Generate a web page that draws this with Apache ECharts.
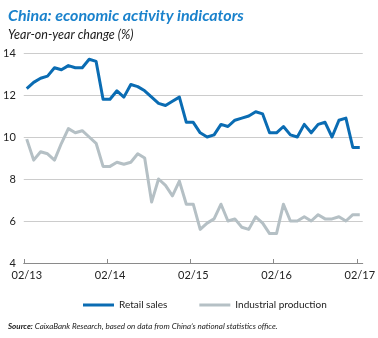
<!DOCTYPE html>
<html>
<head>
<meta charset="utf-8">
<script src="https://cdn.jsdelivr.net/npm/echarts@6/dist/echarts.min.js"></script>
<style>
html,body{margin:0;padding:0;background:#fff;}
#c{width:378px;height:338px;}
</style>
</head>
<body>
<div id="c"></div>
<script>
// Months Feb 2013 .. Feb 2017 (49 monthly points)
const months = [
 '02/13','03/13','04/13','05/13','06/13','07/13','08/13','09/13','10/13','11/13','12/13',
 '01/14','02/14','03/14','04/14','05/14','06/14','07/14','08/14','09/14','10/14','11/14','12/14',
 '01/15','02/15','03/15','04/15','05/15','06/15','07/15','08/15','09/15','10/15','11/15','12/15',
 '01/16','02/16','03/16','04/16','05/16','06/16','07/16','08/16','09/16','10/16','11/16','12/16',
 '01/17','02/17'
];
const retailSales = [
 12.3,12.6,12.8,12.9,13.3,13.2,13.4,13.3,13.3,13.7,13.6,
 11.8,11.8,12.2,11.9,12.5,12.4,12.2,11.9,11.6,11.5,11.7,11.9,
 10.7,10.7,10.2,10.0,10.1,10.6,10.5,10.8,10.9,11.0,11.2,11.1,
 10.2,10.2,10.5,10.1,10.0,10.6,10.2,10.6,10.7,10.0,10.8,10.9,
 9.5,9.5
];
const industrialProduction = [
 9.9,8.9,9.3,9.2,8.9,9.7,10.4,10.2,10.3,10.0,9.7,
 8.6,8.6,8.8,8.7,8.8,9.2,9.0,6.9,8.0,7.7,7.2,7.9,
 6.8,6.8,5.6,5.9,6.1,6.8,6.0,6.1,5.7,5.6,6.2,5.9,
 5.4,5.4,6.8,6.0,6.0,6.2,6.0,6.3,6.1,6.1,6.2,6.0,
 6.3,6.3
];
const xTickLabels = ['02/13','02/14','02/15','02/16','02/17'];
const yTicks = [4,6,8,10,12,14];

const chart = echarts.init(document.getElementById('c'), null, {renderer:'canvas'});
const font = 'Lato, "Open Sans", sans-serif';
const pad = 3/7;
const toPairs = arr => arr.map((v,i)=>[i,v]);

chart.setOption({
  animation:false,
  backgroundColor:'#fff',
  textStyle:{fontFamily:font},
  title:[{
    text:'China: economic activity indicators',
    subtext:'Year-on-year change (%)',
    left:3, top:3, itemGap:4,
    textStyle:{fontFamily:font,fontSize:16,fontWeight:'bold',fontStyle:'italic',color:'#1a82cc'},
    subtextStyle:{fontFamily:font,fontSize:12.5,fontStyle:'italic',color:'#1a1a1a'}
  },{
    text:'{b|Source:} CaixaBank Research, based on data from China\u2019s national statistics office.',
    left:3, top:317,
    textStyle:{fontFamily:font,fontSize:8,fontStyle:'italic',fontWeight:'normal',color:'#1a1a1a',
      rich:{b:{fontFamily:font,fontSize:8,fontStyle:'italic',fontWeight:'bold',color:'#1a1a1a'}}}
  }],
  legend:{
    left:78, top:295,
    icon:'rect', itemWidth:31, itemHeight:3, itemGap:32,
    textStyle:{fontFamily:font,fontSize:10,color:'#222'},
    data:['Retail sales','Industrial production']
  },
  grid:{left:22,right:14,top:53,bottom:75,containLabel:false},
  xAxis:{
    type:'value',
    min:-pad, max:48+pad, interval:12,
    axisLine:{show:true,lineStyle:{color:'#8a8a8a',width:1}},
    axisTick:{show:true,inside:true,length:4,lineStyle:{color:'#8a8a8a'}},
    splitLine:{show:false},
    axisLabel:{
      color:'#222',fontSize:11,margin:7,fontFamily:font,
      showMaxLabel:false,
      padding:[0,0,0,6],
      formatter:function(v){const k=Math.round((v+pad)/12);return xTickLabels[k]||'';}
    }
  },
  yAxis:{
    type:'value', min:4, max:14, interval:2,
    axisLine:{show:false}, axisTick:{show:false},
    splitLine:{lineStyle:{color:'#cccccc',width:1}},
    axisLabel:{color:'#222',fontSize:11,margin:8,fontFamily:font}
  },
  series:[{
    name:'Retail sales', type:'line', data:toPairs(retailSales),
    showSymbol:false, symbol:'none',
    lineStyle:{color:'#0a6cb3',width:3,join:'round'},
    itemStyle:{color:'#0a6cb3'}, z:3
  },{
    name:'Industrial production', type:'line', data:toPairs(industrialProduction),
    showSymbol:false, symbol:'none',
    lineStyle:{color:'#b5c0c5',width:3,join:'round'},
    itemStyle:{color:'#b5c0c5'}, z:2
  }]
});
</script>
</body>
</html>
